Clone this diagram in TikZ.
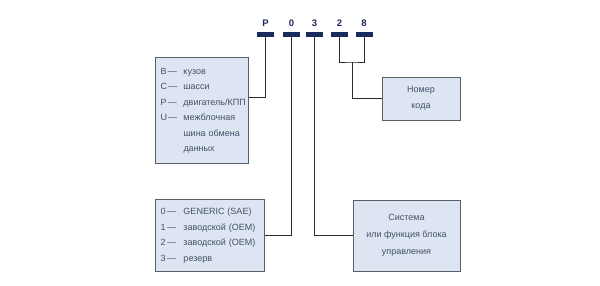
\documentclass[tikz,border=0pt]{standalone}
\usepackage{fontspec}
\setmainfont{Liberation Sans}
\usetikzlibrary{positioning, calc}
\definecolor{BarNavy}{HTML}{1B2A5C}
\definecolor{BoxFill}{HTML}{DDE5F2}
\definecolor{BoxLine}{HTML}{5A5F66}
\definecolor{TextGray}{HTML}{44506B}
\definecolor{WireDark}{HTML}{2B2B2B}

\begin{document}
\begin{tikzpicture}[x=1pt, y=-1pt,
    bar/.style={fill=BarNavy, minimum width=17pt, minimum height=5pt, inner sep=0pt},
    digit/.style={text=BarNavy, font=\bfseries\fontsize{9.5}{10}\selectfont, inner sep=0pt},
    infobox/.style={draw=BoxLine, line width=1pt, fill=BoxFill, text=TextGray, inner sep=5pt,
        font=\fontsize{9}{15.5}\selectfont},
    wire/.style={draw=WireDark, line width=0.8pt}]
        \useasboundingbox[fill=white] (0,0) rectangle (600,285);

        % Code characters and bars
        \node[bar] (barP) at (265.5,34.5) {};
        \node[bar] (bar0) at (291.5,34.5) {};
        \node[bar] (bar3) at (314.5,34.5) {};
        \node[bar] (bar2) at (339.5,34.5) {};
        \node[bar] (bar8) at (364,34.5) {};
        \foreach \c/\t in {P/P, 0/0, 3/3, 2/2, 8/8}
            \node[digit, above=5pt of bar\c] (ch\c) {\t};

        % Description boxes
        \node[infobox, minimum width=93pt, minimum height=106pt, text width=88pt, inner sep=2.5pt, align=left] (typebox) at (201.5,110) {%
            \begin{tabular}{@{\hspace{3pt}}p{23pt}@{}l@{}}
                B\,--- & кузов\\
                C\,--- & шасси\\
                P\,--- & двигатель/КПП\\
                U\,--- & межблочная\\
                       & шина обмена\\
                       & данных
            \end{tabular}};
        \node[infobox, minimum width=109pt, minimum height=72pt, text width=104pt, inner sep=2.5pt, align=left] (stdbox) at (209.5,235) {%
            \begin{tabular}{@{\hspace{3pt}}p{23pt}@{}l@{}}
                0\,--- & GENERIC (SAE)\\
                1\,--- & заводской (OEM)\\
                2\,--- & заводской (OEM)\\
                3\,--- & резерв
            \end{tabular}};
        \node[infobox, minimum width=107pt, minimum height=71pt, align=center,
              font=\fontsize{9}{17}\selectfont] (sysbox) at (406.5,235.5) {%
            Система\\или функция блока\\управления};
        \node[infobox, minimum width=78pt, minimum height=43pt, align=center] (codebox) at (421,98.5) {%
            Номер\\кода};

        % Connectors
        \draw[wire] (barP.south) |- (typebox.east |- 0,97);
        \draw[wire] (bar0.south) |- (stdbox.east);
        \draw[wire] (bar3.south) |- (sysbox.west);
        \draw[wire] (bar2.south) |- (352,62) coordinate (fork) -| (bar8.south);
        \draw[wire] (fork) |- (codebox.west);
    \end{tikzpicture}
\end{document}
